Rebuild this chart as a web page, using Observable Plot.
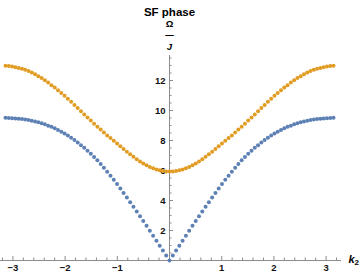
<!DOCTYPE html>
<html>
<head>
<meta charset="utf-8">
<script src="https://cdn.jsdelivr.net/npm/d3@7"></script>
<script src="https://cdn.jsdelivr.net/npm/@observablehq/plot@0.6"></script>
<style>
  html, body { margin: 0; padding: 0; background: white; }
  #chart { width: 360px; height: 278px; }
</style>
</head>
<body>
<div id="chart"></div>
<script>
// Momentum k2 samples
const kValues = [
  -3.142,-3.079,-3.016,-2.953,-2.890,-2.827,-2.765,-2.702,-2.639,-2.576,
  -2.513,-2.450,-2.388,-2.325,-2.262,-2.199,-2.136,-2.073,-2.011,-1.948,
  -1.885,-1.822,-1.759,-1.696,-1.634,-1.571,-1.508,-1.445,-1.382,-1.319,
  -1.257,-1.194,-1.131,-1.068,-1.005,-0.942,-0.880,-0.817,-0.754,-0.691,
  -0.628,-0.565,-0.503,-0.440,-0.377,-0.314,-0.251,-0.188,-0.126,-0.063,
  0,
  0.063,0.126,0.188,0.251,0.314,0.377,0.440,0.503,0.565,0.628,
  0.691,0.754,0.817,0.880,0.942,1.005,1.068,1.131,1.194,1.257,
  1.319,1.382,1.445,1.508,1.571,1.634,1.696,1.759,1.822,1.885,
  1.948,2.011,2.073,2.136,2.199,2.262,2.325,2.388,2.450,2.513,
  2.576,2.639,2.702,2.765,2.827,2.890,2.953,3.016,3.079,3.142
];
// Lower branch Ω/J (blue)
const lowerBranch = [
  9.51,9.50,9.49,9.47,9.45,9.43,9.40,9.36,9.32,9.27,
  9.21,9.15,9.08,8.99,8.91,8.82,8.70,8.59,8.47,8.33,
  8.18,8.03,7.87,7.69,7.51,7.32,7.11,6.90,6.68,6.43,
  6.18,5.92,5.65,5.38,5.10,4.80,4.50,4.20,3.89,3.58,
  3.27,2.95,2.64,2.31,1.98,1.65,1.32,0.99,0.66,0.33,
  0,
  0.33,0.66,0.99,1.32,1.65,1.98,2.31,2.64,2.95,3.27,
  3.58,3.89,4.20,4.50,4.80,5.10,5.38,5.65,5.92,6.18,
  6.43,6.68,6.90,7.11,7.32,7.51,7.69,7.87,8.03,8.18,
  8.33,8.47,8.59,8.70,8.82,8.91,8.99,9.08,9.15,9.21,
  9.27,9.32,9.36,9.40,9.43,9.45,9.47,9.49,9.50,9.51
];
// Upper branch Ω/J (orange)
const upperBranch = [
  12.98,12.96,12.93,12.89,12.84,12.78,12.71,12.63,12.53,12.42,
  12.29,12.16,12.02,11.86,11.69,11.53,11.35,11.17,10.98,10.78,
  10.58,10.37,10.16,9.95,9.74,9.53,9.33,9.12,8.92,8.73,
  8.53,8.34,8.16,7.98,7.80,7.61,7.43,7.25,7.08,6.91,
  6.75,6.60,6.47,6.35,6.24,6.15,6.07,6.01,5.97,5.94,
  5.93,
  5.94,5.97,6.01,6.07,6.15,6.24,6.35,6.47,6.60,6.75,
  6.91,7.08,7.25,7.43,7.61,7.80,7.98,8.16,8.34,8.53,
  8.73,8.92,9.12,9.33,9.53,9.74,9.95,10.16,10.37,10.58,
  10.78,10.98,11.17,11.35,11.53,11.69,11.86,12.02,12.16,12.29,
  12.42,12.53,12.63,12.71,12.78,12.84,12.89,12.93,12.96,12.98
];
const xTicks = [-3, -2, -1, 1, 2, 3];
const xMinorTicks = [-3.2,-2.8,-2.6,-2.4,-2.2,-1.8,-1.6,-1.4,-1.2,-0.8,-0.6,-0.4,-0.2,
                     0.2,0.4,0.6,0.8,1.2,1.4,1.6,1.8,2.2,2.4,2.6,2.8,3.2];
const yTicks = [2, 4, 6, 8, 10, 12];
const yMinorTicks = [0.5,1,1.5,2.5,3,3.5,4.5,5,5.5,6.5,7,7.5,8.5,9,9.5,10.5,11,11.5,12.5,13,13.5];
const xDomain = [-3.238, 3.295];
const yDomain = [0, 13.667];
const titleText = "SF phase";

const W = 360, H = 278;
const mLeft = 0, mRight = 19, mTop = 55, mBottom = 18;
const blue = "#5E81B5", orange = "#E19C24", axisColor = "#8c8c8c";

const lower = kValues.map((k, i) => ({k, w: lowerBranch[i]}));
const upper = kValues.map((k, i) => ({k, w: upperBranch[i]}));

// pixel offset of x = 0 inside the frame, from the library's own scale
const xs = Plot.scale({x: {domain: xDomain, range: [mLeft, W - mRight]}});
const x0 = xs.apply(0) - mLeft;

const font = "'Liberation Sans', Arial, sans-serif";

const chart = Plot.plot({
  width: W, height: H,
  marginLeft: mLeft, marginRight: mRight, marginTop: mTop, marginBottom: mBottom,
  x: {domain: xDomain, axis: null},
  y: {domain: yDomain, axis: null},
  style: {background: "white", fontFamily: font, color: "black", overflow: "visible"},
  marks: [
    // axes lines
    Plot.ruleY([0], {stroke: axisColor, strokeWidth: 1}),
    Plot.ruleX([0], {y1: yDomain[0], y2: yDomain[1], stroke: axisColor, strokeWidth: 1}),
    // x ticks
    Plot.axisX(xMinorTicks, {anchor: "bottom", tickSize: -2.5, text: null, label: null, stroke: axisColor}),
    Plot.axisX(xTicks, {anchor: "bottom", tickSize: -4, tickPadding: 8, stroke: axisColor, label: null,
      fontWeight: "bold", fontSize: 9.5, fill: "#111", tickFormat: d => d < 0 ? "\u2212" + Math.abs(d) : String(d)}),
    // y ticks at x = 0
    Plot.axisY(yMinorTicks, {anchor: "left", tickSize: -2.5, text: null, label: null, stroke: axisColor, dx: x0}),
    Plot.axisY(yTicks, {anchor: "left", tickSize: -4, tickPadding: 8, stroke: axisColor, dx: x0, label: null,
      fontWeight: "bold", fontSize: 9.5, fill: "#111"}),
    // data
    Plot.dot(lower, {x: "k", y: "w", r: 2, fill: blue, stroke: null}),
    Plot.dot(upper, {x: "k", y: "w", r: 2, fill: orange, stroke: null}),
    // title and y label (fraction) above the y axis
    Plot.text([0], {x: d => d, frameAnchor: "top", text: () => titleText, dy: -48,
      fontWeight: "bold", fontSize: 11.5, fill: "black"}),
    Plot.text([0], {x: d => d, frameAnchor: "top", text: () => "\u03A9", dy: -35,
      fontWeight: "bold", fontSize: 9.5, fill: "black"}),
    Plot.text([0], {x: d => d, frameAnchor: "top", text: () => "\u2014", dy: -23.5,
      fontWeight: "bold", fontSize: 8.5, fill: "black"}),
    Plot.text([0], {x: d => d, frameAnchor: "top", text: () => "J", dy: -12,
      fontWeight: "bold", fontStyle: "italic", fontSize: 9.5, fill: "black"}),
    // x label k2
    Plot.text([0], {y: d => d, frameAnchor: "right", text: () => "k", dx: 7, dy: -1, textAnchor: "start",
      fontWeight: "bold", fontStyle: "italic", fontSize: 11, fill: "black"}),
    Plot.text([0], {y: d => d, frameAnchor: "right", text: () => "2", dx: 13, dy: 2, textAnchor: "start",
      fontWeight: "bold", fontSize: 8, fill: "black"})
  ]
});
document.getElementById("chart").appendChild(chart);
</script>
</body>
</html>
